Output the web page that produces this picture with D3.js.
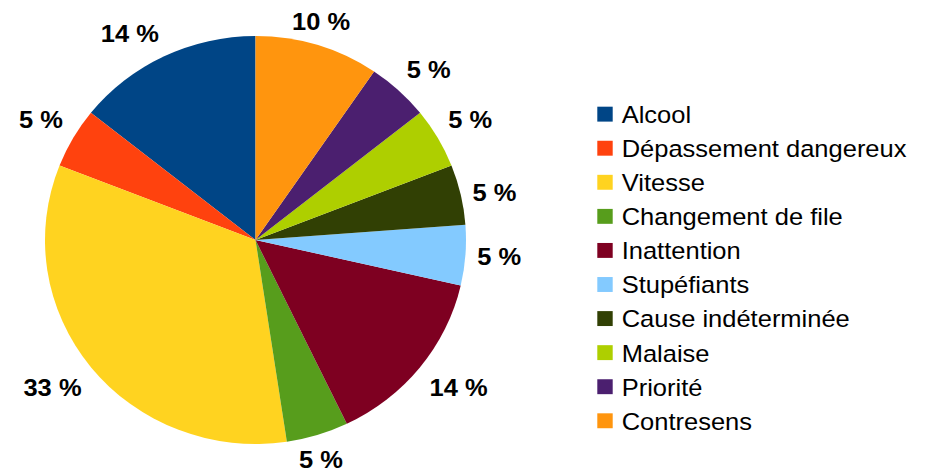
<!DOCTYPE html>
<html>
<head>
<meta charset="utf-8">
<script src="https://cdn.jsdelivr.net/npm/d3@7"></script>
<style>
  body { margin: 0; background: #fff; }
  text { font-family: "Liberation Sans", Arial, sans-serif; }
</style>
</head>
<body>
<svg width="928" height="471"></svg>
<script>
// causes, in legend order (pie runs counter-clockwise from 12 o'clock)
var causes = ["Alcool", "Dépassement dangereux", "Vitesse", "Changement de file",
  "Inattention", "Stupéfiants", "Cause indéterminée", "Malaise", "Priorité", "Contresens"];
var counts = [3, 1, 7, 1, 3, 1, 1, 1, 1, 2];
var colors = ["#004586", "#ff420e", "#ffd320", "#579d1c", "#7e0021",
  "#83caff", "#314004", "#aecf00", "#4b1f6f", "#ff950e"];

var svg = d3.select("svg"),
    width = +svg.attr("width"),
    height = +svg.attr("height");

// the original picture is squeezed a little vertically
var squash = 0.969;
var root = svg.append("g").attr("transform", "scale(1," + squash + ")");

var cx = 255.5, cy = 240 / squash, radius = 210.5;
var total = d3.sum(counts);

var data = causes.map(function(c, i) { return {name: c, value: counts[i], color: colors[i]}; });

var pie = d3.pie()
    .sort(null)
    .value(function(d) { return d.value; })
    .startAngle(0)
    .endAngle(-2 * Math.PI);

var arc = d3.arc().innerRadius(0).outerRadius(radius);

var arcs = pie(data);

var g = root.append("g").attr("transform", "translate(" + cx + "," + cy + ")");

g.selectAll("path")
  .data(arcs)
  .enter().append("path")
    .attr("d", arc)
    .attr("fill", function(d) { return d.data.color; });

// percentage labels outside the pie
var labelSize = 25.5, gap = 12;
g.selectAll("text.pct")
  .data(arcs)
  .enter().append("text")
    .attr("class", "pct")
    .style("font-size", labelSize + "px")
    .style("font-weight", "bold")
    .attr("fill", "#000")
    .text(function(d) { return Math.round(d.data.value / total * 100) + " %"; })
    .each(function(d) {
      var a = (d.startAngle + d.endAngle) / 2,
          s = Math.sin(a), c = Math.cos(a),
          r = radius + gap,
          x = s * r, y = -c * r;
      var anchor = "middle";
      if (s > 0.35) anchor = "start";
      else if (s < -0.35) anchor = "end";
      var yc = y;
      if (c > 0.35) yc = y - labelSize * 0.52;
      else if (c < -0.35) yc = y + labelSize * 0.52;
      d3.select(this)
        .attr("text-anchor", anchor)
        .attr("x", x)
        .attr("y", yc + labelSize * 0.36);
    });

// legend
var legendSize = 25.5, legendX = 597.3, legendY = 110.1, step = 35.16, box = 15.4;
var legend = root.append("g");
var row = legend.selectAll("g")
  .data(data)
  .enter().append("g")
    .attr("transform", function(d, i) { return "translate(" + legendX + "," + (legendY + i * step) + ")"; });

row.append("rect")
    .attr("width", box)
    .attr("height", box)
    .attr("fill", function(d) { return d.color; });

row.append("text")
    .attr("x", 24.4)
    .attr("y", box / 2 + legendSize * 0.36)
    .style("font-size", legendSize + "px")
    .attr("fill", "#000")
    .text(function(d) { return d.name; });
</script>
</body>
</html>
